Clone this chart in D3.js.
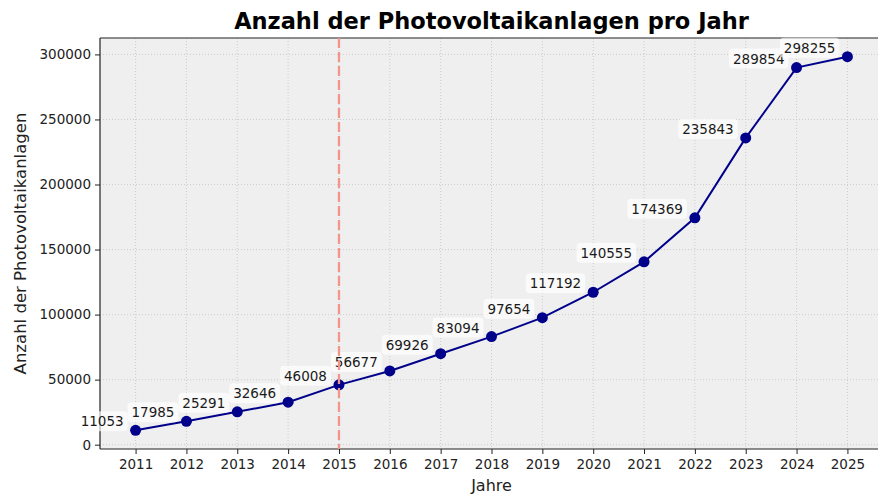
<!DOCTYPE html>
<html>
<head>
<meta charset="utf-8">
<script src="https://cdn.jsdelivr.net/npm/d3@7"></script>
<style>
  html, body { margin: 0; padding: 0; background: #fff; }
  svg { display: block; font-family: "DejaVu Sans", sans-serif; }
</style>
</head>
<body>
<div id="chart"></div>
<script>
// yearly count of PV installations
const years = [2011, 2012, 2013, 2014, 2015, 2016, 2017, 2018, 2019, 2020, 2021, 2022, 2023, 2024, 2025];
const counts = [11053, 17985, 25291, 32646, 46008, 56677, 69926, 83094, 97654, 117192, 140555, 174369, 235843, 289854, 298255];
const yTicks = [0, 50000, 100000, 150000, 200000, 250000, 300000];
const markerYear = 2015;

const width = 878, height = 494;
const margin = { top: 38, right: -5, bottom: 45, left: 100 };

const svg = d3.select("#chart").append("svg")
    .attr("width", width)
    .attr("height", height);

// matplotlib style 5% padding on both axes
const xPad = (d3.max(years) - d3.min(years)) * 0.05;
const yPad = (d3.max(counts) - d3.min(counts)) * 0.05;

const x = d3.scaleLinear()
    .domain([d3.min(years) - xPad, d3.max(years) + xPad])
    .range([margin.left, width - margin.right]);
const y = d3.scaleLinear()
    .domain([d3.min(counts) - yPad, d3.max(counts) + yPad])
    .range([height - margin.bottom, margin.top]);

const x0 = x.range()[0], x1 = x.range()[1];
const y0 = y.range()[0], y1 = y.range()[1];

// plot background
svg.append("rect")
    .attr("x", x0).attr("y", y1)
    .attr("width", x1 - x0).attr("height", y0 - y1)
    .attr("fill", "#efefef");

// grid
const grid = svg.append("g")
    .attr("stroke", "#c4c4c4")
    .attr("stroke-width", 0.8)
    .attr("stroke-dasharray", "1,2");
grid.selectAll("line.gx")
    .data(years)
    .join("line")
    .attr("class", "gx")
    .attr("x1", d => x(d)).attr("x2", d => x(d))
    .attr("y1", y1).attr("y2", y0);
grid.selectAll("line.gy")
    .data(yTicks)
    .join("line")
    .attr("class", "gy")
    .attr("x1", x0).attr("x2", x1)
    .attr("y1", d => y(d)).attr("y2", d => y(d));

// axes
const xAxis = svg.append("g")
    .attr("transform", `translate(0,${y0})`)
    .call(d3.axisBottom(x).tickValues(years).tickFormat(d3.format("d")).tickSize(5).tickPadding(4));
const yAxis = svg.append("g")
    .attr("transform", `translate(${x0},0)`)
    .call(d3.axisLeft(y).tickValues(yTicks).tickFormat(d3.format("d")).tickSize(5).tickPadding(4));

[xAxis, yAxis].forEach(ax => {
    ax.select(".domain").remove();
    ax.selectAll("line").attr("stroke", "#222");
    ax.selectAll("text")
        .attr("fill", "#222")
        .attr("font-size", 13.5)
        .attr("font-family", "DejaVu Sans, sans-serif");
});
xAxis.selectAll("text").attr("dy", "0.78em");

// spines: left, bottom, top
svg.append("g")
    .attr("stroke", "#222")
    .attr("stroke-width", 1.2)
    .call(g => {
        g.append("line").attr("x1", x0).attr("x2", x0).attr("y1", y1).attr("y2", y0);
        g.append("line").attr("x1", x0).attr("x2", x1).attr("y1", y0).attr("y2", y0);
        g.append("line").attr("x1", x0).attr("x2", x1).attr("y1", y1).attr("y2", y1);
    });

const data = years.map((yr, i) => ({ year: yr, value: counts[i] }));

// line + markers
svg.append("path")
    .datum(data)
    .attr("fill", "none")
    .attr("stroke", "#00008b")
    .attr("stroke-width", 2)
    .attr("d", d3.line().x(d => x(d.year)).y(d => y(d.value)));

svg.append("g")
    .selectAll("circle")
    .data(data)
    .join("circle")
    .attr("cx", d => x(d.year))
    .attr("cy", d => y(d.value))
    .attr("r", 5.5)
    .attr("fill", "#00008b");

// value labels with semi transparent white boxes
const labels = svg.append("g");
data.forEach(d => {
    const g = labels.append("g");
    const t = g.append("text")
        .attr("x", x(d.year) - 12)
        .attr("y", y(d.value) - 4)
        .attr("text-anchor", "end")
        .attr("font-size", 13.5)
        .attr("fill", "#1a1a1a")
        .text(d.value);
    const bb = t.node().getBBox();
    g.insert("rect", "text")
        .attr("x", bb.x - 4).attr("y", bb.y - 2)
        .attr("width", bb.width + 8).attr("height", bb.height + 4)
        .attr("rx", 4)
        .attr("fill", "#fff")
        .attr("fill-opacity", 0.65);
});

// reference line
svg.append("line")
    .attr("x1", x(markerYear)).attr("x2", x(markerYear))
    .attr("y1", y1).attr("y2", y0)
    .attr("stroke", "#f4958b")
    .attr("stroke-width", 2.3)
    .attr("stroke-dasharray", "10,4");

// title and axis labels
svg.append("text")
    .attr("x", (x0 + x1) / 2)
    .attr("y", 29)
    .attr("text-anchor", "middle")
    .attr("font-size", 22.5)
    .attr("font-weight", "bold")
    .attr("fill", "#000")
    .text("Anzahl der Photovoltaikanlagen pro Jahr");

svg.append("text")
    .attr("x", (x0 + x1) / 2)
    .attr("y", 491)
    .attr("text-anchor", "middle")
    .attr("font-size", 16)
    .attr("fill", "#222")
    .text("Jahre");

svg.append("text")
    .attr("transform", `translate(26,${(y0 + y1) / 2}) rotate(-90)`)
    .attr("text-anchor", "middle")
    .attr("font-size", 16.5)
    .attr("fill", "#222")
    .text("Anzahl der Photovoltaikanlagen");
</script>
</body>
</html>
